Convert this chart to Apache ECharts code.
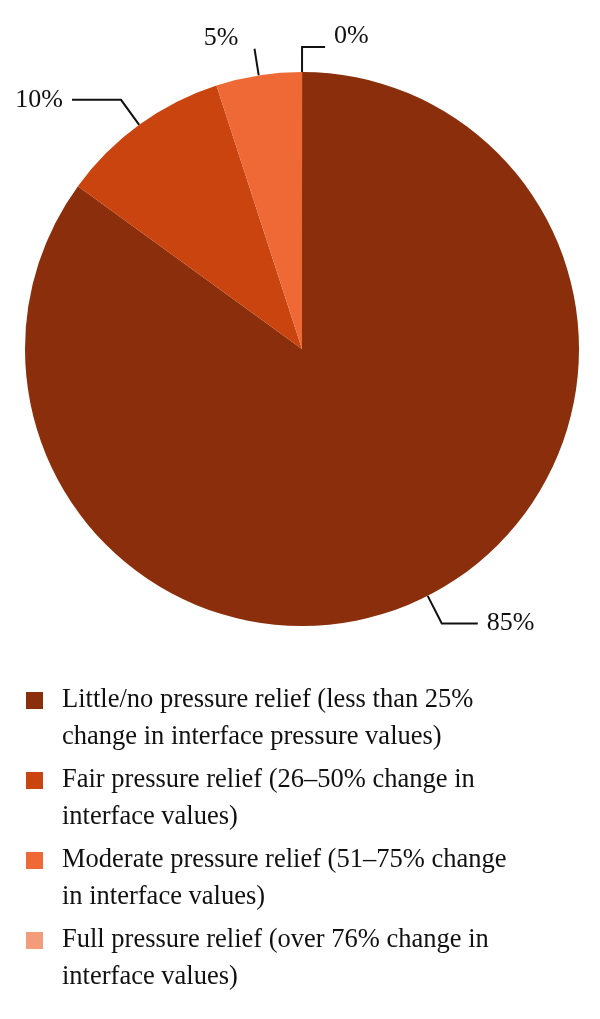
<!DOCTYPE html>
<html>
<head>
<meta charset="utf-8">
<script src="https://cdn.jsdelivr.net/npm/echarts@6/dist/echarts.min.js"></script>
<style>
html,body{margin:0;padding:0;background:#fff;}
#chart{width:600px;height:1019px;}
</style>
</head>
<body>
<div id="chart"></div>
<script>
// Data
var categories = [
  "Little/no pressure relief (less than 25%\nchange in interface pressure values)",
  "Fair pressure relief (26\u201350% change in\ninterface values)",
  "Moderate pressure relief (51\u201375% change\nin interface values)",
  "Full pressure relief (over 76% change in\ninterface values)"
];
var values = [85, 10, 5, 0];
var colors = ["#8B2E0C", "#C9440F", "#EE6935", "#F39C7B"];
// per-slice label line lengths [length, length2]
var lineLens = [[31, 36], [31, 49], [27, 0], [25, 23]];
// labels drawn above the end of their leader line
var liftLabel = [false, false, true, true];
var labelPads = [[0, 0, 0, 0], [0, 0, 0, 0], [0, 7, 0, 0], [0, 0, 0, 0]];

var FONT = "Liberation Serif";

var data = categories.map(function (c, i) {
  return {
    name: c,
    value: values[i],
    itemStyle: { color: colors[i] },
    label: { padding: labelPads[i] },
    labelLine: { length: lineLens[i][0], length2: lineLens[i][1] }
  };
});

var rich = {
  t: { fontFamily: FONT, fontSize: 26.5, color: "#111", lineHeight: 37, padding: [0, 0, 0, 19] },
  s: { width: 17, height: 17, lineHeight: 37 }
};
colors.forEach(function (c, i) {
  rich["m" + i] = { width: 17, height: 17, backgroundColor: c, lineHeight: 37 };
});

var chart = echarts.init(document.getElementById("chart"), null, { renderer: "canvas" });
chart.setOption({
  animation: false,
  backgroundColor: "#fff",
  legend: {
    orient: "vertical",
    left: 16,
    top: 677,
    icon: "none",
    itemWidth: 0,
    itemHeight: 0,
    itemGap: 6,
    selectedMode: false,
    data: categories,
    formatter: function (name) {
      var i = categories.indexOf(name);
      var lines = name.split("\n");
      return lines.map(function (l, k) {
        return (k === 0 ? "{m" + i + "|}" : "{s|}") + "{t|" + l + "}";
      }).join("\n");
    },
    textStyle: { rich: rich, fontFamily: FONT, fontSize: 26.5, lineHeight: 37 }
  },
  series: [{
    type: "pie",
    center: [302, 349],
    radius: 277,
    startAngle: 89.99,
    clockwise: true,
    avoidLabelOverlap: false,
    data: data,
    itemStyle: { borderWidth: 0 },
    label: {
      show: true,
      formatter: function (p) {
        return "{v|" + p.value + "%}" + (liftLabel[p.dataIndex] ? "\n{g|}" : "");
      },
      rich: {
        v: { fontFamily: FONT, fontSize: 26, color: "#111", lineHeight: 26 },
        g: { height: 21, lineHeight: 21 }
      },
      distanceToLabelLine: 9
    },
    labelLine: {
      show: true,
      lineStyle: { color: "#111", width: 2 }
    },
    emphasis: { disabled: true }
  }]
});
</script>
</body>
</html>
